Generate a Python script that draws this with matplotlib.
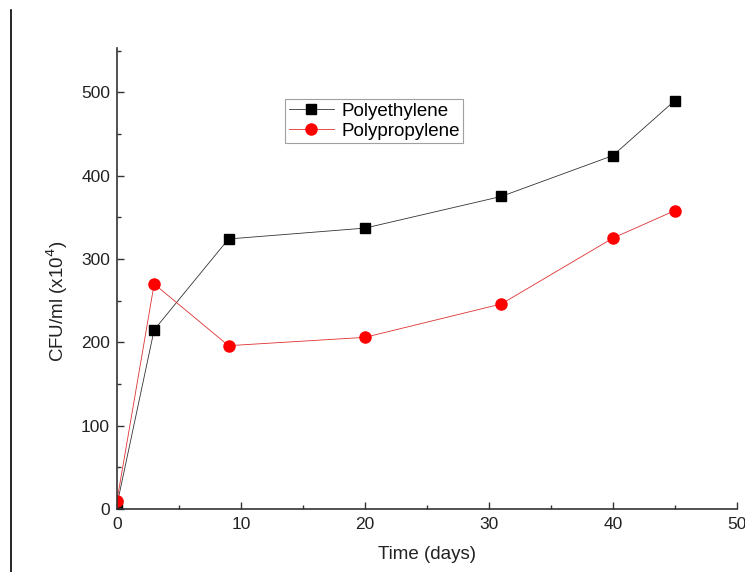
import matplotlib
matplotlib.use("Agg")
import matplotlib.pyplot as plt
from matplotlib.lines import Line2D
from matplotlib.ticker import MultipleLocator

plt.rcParams['font.family'] = ['Liberation Sans', 'DejaVu Sans']

days = [0, 3, 9, 20, 31, 40, 45]
polyethylene = [5, 215, 324, 337, 375, 424, 490]
polypropylene = [10, 270, 196, 206, 246, 325, 358]

fig = plt.figure(figsize=(7.45, 5.72), dpi=100)
ax = fig.add_axes([0.157, 0.110, 0.832, 0.806])

ax.plot(days, polyethylene, color='#333333', lw=0.6, marker='s', ms=7,
        mfc='black', mec='black', label='Polyethylene')
ax.plot(days, polypropylene, color='#e03030', lw=0.6, marker='o', ms=8,
        mfc='red', mec='red', label='Polypropylene')

ax.set_xlim(0, 50)
ax.set_ylim(0, 553)
ax.xaxis.set_major_locator(MultipleLocator(10))
ax.xaxis.set_minor_locator(MultipleLocator(5))
ax.yaxis.set_major_locator(MultipleLocator(100))
ax.yaxis.set_minor_locator(MultipleLocator(50))
ax.tick_params(which='both', direction='in', color='#333333', labelsize=12.5,
               width=1, labelcolor='#222222')
ax.tick_params(which='major', length=5)
ax.tick_params(which='minor', length=3)
ax.tick_params(axis='x', pad=6)
ax.tick_params(axis='y', pad=5)
for s in ['top', 'right']:
    ax.spines[s].set_visible(False)
for s in ['left', 'bottom']:
    ax.spines[s].set_color('#333333')
    ax.spines[s].set_linewidth(1.2)

ax.set_xlabel('Time (days)', fontsize=13.5, labelpad=10, color='#222222')
ax.set_ylabel('CFU/ml (x10$^4$)', fontsize=13.5, color='#222222')
ax.yaxis.set_label_coords(-0.076, 0.45)

leg = ax.legend(loc='upper left', bbox_to_anchor=(0.271, 0.89), fontsize=13.5,
                frameon=True, fancybox=False, edgecolor='#888888',
                handlelength=2.4, borderpad=0.2, labelspacing=0.15,
                handletextpad=0.4, borderaxespad=0)
leg.get_frame().set_linewidth(0.8)

fig.add_artist(Line2D([0.015, 0.015], [0.0, 0.982], transform=fig.transFigure,
                      color='black', lw=1.2))

fig.savefig('out.png', dpi=100)
